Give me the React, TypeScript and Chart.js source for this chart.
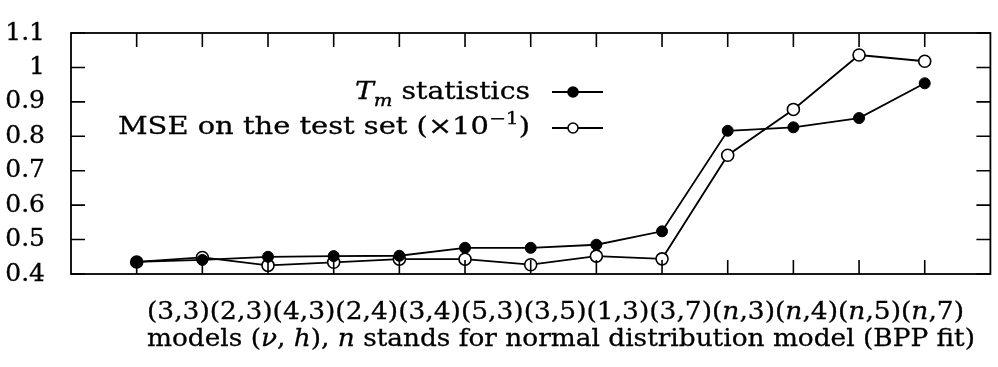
import React, { useEffect, useRef } from "react";
import { Chart, registerables } from "chart.js";

Chart.register(...registerables);

// ---- data ----
const categories = ["(3,3)", "(2,3)", "(4,3)", "(2,4)", "(3,4)", "(5,3)", "(3,5)", "(1,3)", "(3,7)", "(n,3)", "(n,4)", "(n,5)", "(n,7)"];
const tmStatistics = [0.435, 0.441, 0.45, 0.452, 0.453, 0.476, 0.476, 0.485, 0.524, 0.816, 0.826, 0.853, 0.954];
const mseTestSet = [0.435, 0.448, 0.425, 0.434, 0.443, 0.443, 0.427, 0.452, 0.444, 0.745, 0.878, 1.036, 1.018];
const yTickValues = [0.4, 0.5, 0.6, 0.7, 0.8, 0.9, 1.0, 1.1];
const yTickLabels = ["0.4", "0.5", "0.6", "0.7", "0.8", "0.9", "1", "1.1"];

type Run = { t: string; it?: boolean; sub?: boolean; sup?: boolean };

const xTitleRuns: Run[] = [
  { t: "models (" },
  { t: "ν", it: true },
  { t: ", " },
  { t: "h", it: true },
  { t: "), " },
  { t: "n", it: true },
  { t: " stands for normal distribution model (BPP fit)" },
];
const legendTmRuns: Run[] = [
  { t: "T", it: true },
  { t: "m", it: true, sub: true },
  { t: " statistics" },
];
const legendMseRuns: Run[] = [
  { t: "MSE on the test set (×10" },
  { t: "−1", sup: true },
  { t: ")" },
];

const FONT = '"DejaVu Serif", "Liberation Serif", serif';

function categoryRuns(cats: string[]): Run[] {
  const runs: Run[] = [];
  cats.forEach((c) => {
    for (const ch of c) runs.push({ t: ch, it: /[a-z]/.test(ch) });
  });
  return runs;
}

function runFont(r: Run, size: number) {
  const s = r.sub || r.sup ? size * 0.7 : size;
  return `${r.it ? "italic " : ""}${s}px ${FONT}`;
}

function drawRuns(
  ctx: CanvasRenderingContext2D,
  runs: Run[],
  x: number,
  y: number,
  size: number,
  targetWidth: number,
  align: "left" | "right" | "center"
) {
  ctx.save();
  let w = 0;
  const widths = runs.map((r) => {
    ctx.font = runFont(r, size);
    const m = ctx.measureText(r.t).width;
    w += m;
    return m;
  });
  const sx = targetWidth ? targetWidth / w : 1;
  const total = w * sx;
  const x0 = align === "left" ? x : align === "right" ? x - total : x - total / 2;
  ctx.translate(x0, y);
  ctx.scale(sx, 1);
  ctx.textAlign = "left";
  ctx.textBaseline = "alphabetic";
  ctx.fillStyle = "#000";
  ctx.strokeStyle = "#000";
  ctx.lineWidth = 0.3;
  let cx = 0;
  runs.forEach((r, i) => {
    ctx.font = runFont(r, size);
    const dy = r.sub ? size * 0.28 : r.sup ? -size * 0.42 : 0;
    ctx.fillText(r.t, cx, dy);
    ctx.strokeText(r.t, cx, dy);
    cx += widths[i];
  });
  ctx.restore();
}

const framePlugin = {
  id: "frame",
  afterDatasetsDraw(chart: any) {
    const { ctx, chartArea: a, scales } = chart;
    const x = scales.x;
    const y = scales.y;
    ctx.save();
    ctx.strokeStyle = "#000";
    ctx.lineWidth = 1.8;
    ctx.strokeRect(a.left, a.top, a.right - a.left, a.bottom - a.top);
    ctx.lineWidth = 1.6;
    ctx.beginPath();
    const tl = 14;
    yTickValues.forEach((v) => {
      const py = y.getPixelForValue(v);
      ctx.moveTo(a.left, py);
      ctx.lineTo(a.left + tl, py);
      ctx.moveTo(a.right, py);
      ctx.lineTo(a.right - tl, py);
    });
    categories.forEach((_, i) => {
      const px = x.getPixelForValue(i + 1);
      ctx.moveTo(px, a.bottom);
      ctx.lineTo(px, a.bottom - tl);
      ctx.moveTo(px, a.top);
      ctx.lineTo(px, a.top + tl);
    });
    ctx.stroke();

    // x-axis text (two lines)
    drawRuns(ctx, categoryRuns(categories), 147, 319, 25, 817, "left");
    drawRuns(ctx, xTitleRuns, 147, 346, 25, 828, "left");

    // legend
    drawRuns(ctx, legendTmRuns, 530, 99, 24, 175, "right");
    drawRuns(ctx, legendMseRuns, 530, 134, 24, 412, "right");
    const items = [
      { y: 92, fill: "#000", r: 5 },
      { y: 128, fill: "#fff", r: 5 },
    ];
    items.forEach((it) => {
      ctx.beginPath();
      ctx.lineWidth = 1.8;
      ctx.moveTo(552, it.y);
      ctx.lineTo(603, it.y);
      ctx.stroke();
      ctx.beginPath();
      ctx.arc(573, it.y, it.r, 0, Math.PI * 2);
      ctx.fillStyle = it.fill;
      ctx.fill();
      ctx.lineWidth = 1.6;
      ctx.stroke();
    });
    ctx.restore();
  },
};

export default function App() {
  const ref = useRef<HTMLCanvasElement | null>(null);
  useEffect(() => {
    if (!ref.current) return;
    const chart = new Chart(ref.current, {
      type: "line",
      data: {
        datasets: [
          {
            label: "Tm statistics",
            data: tmStatistics.map((v, i) => ({ x: i + 1, y: v })),
            borderColor: "#000",
            borderWidth: 1.8,
            pointRadius: 5.5,
            pointBackgroundColor: "#000",
            pointBorderColor: "#000",
            pointBorderWidth: 1,
            tension: 0,
          },
          {
            label: "MSE on the test set",
            data: mseTestSet.map((v, i) => ({ x: i + 1, y: v })),
            borderColor: "#000",
            borderWidth: 1.8,
            pointRadius: 6,
            pointBackgroundColor: "#fff",
            pointBorderColor: "#000",
            pointBorderWidth: 1.6,
            tension: 0,
          },
        ],
      },
      options: {
        responsive: false,
        animation: false,
        layout: { padding: { top: 18, right: 1, left: 0, bottom: 0 } },
        plugins: { legend: { display: false }, tooltip: { enabled: false } },
        scales: {
          x: {
            type: "linear",
            min: 0,
            max: categories.length + 1,
            grid: { display: false },
            border: { display: false },
            ticks: { display: false },
            afterFit: (s: any) => {
              s.height = 93;
            },
          },
          y: {
            type: "linear",
            min: 0.4,
            max: 1.1,
            grid: { display: false },
            border: { display: false },
            afterBuildTicks: (s: any) => {
              s.ticks = yTickValues.map((v) => ({ value: v }));
            },
            ticks: {
              padding: 18,
              color: "#000",
              textStrokeColor: "#000",
              textStrokeWidth: 0.3,
              font: { family: FONT, size: 25 },
              callback: (v: any) => {
                const i = yTickValues.findIndex((t) => Math.abs(t - Number(v)) < 1e-6);
                return i >= 0 ? yTickLabels[i] : "";
              },
            },
            afterFit: (s: any) => {
              s.width = 71;
            },
          },
        },
      },
      plugins: [framePlugin],
    } as any);
    return () => chart.destroy();
  }, []);
  return (
    <div style={{ position: "absolute", left: 0, top: 0, width: 998, height: 367, background: "#fff" }}>
      <canvas ref={ref} width={998} height={367} style={{ width: 998, height: 367, display: "block" }} />
    </div>
  );
}
